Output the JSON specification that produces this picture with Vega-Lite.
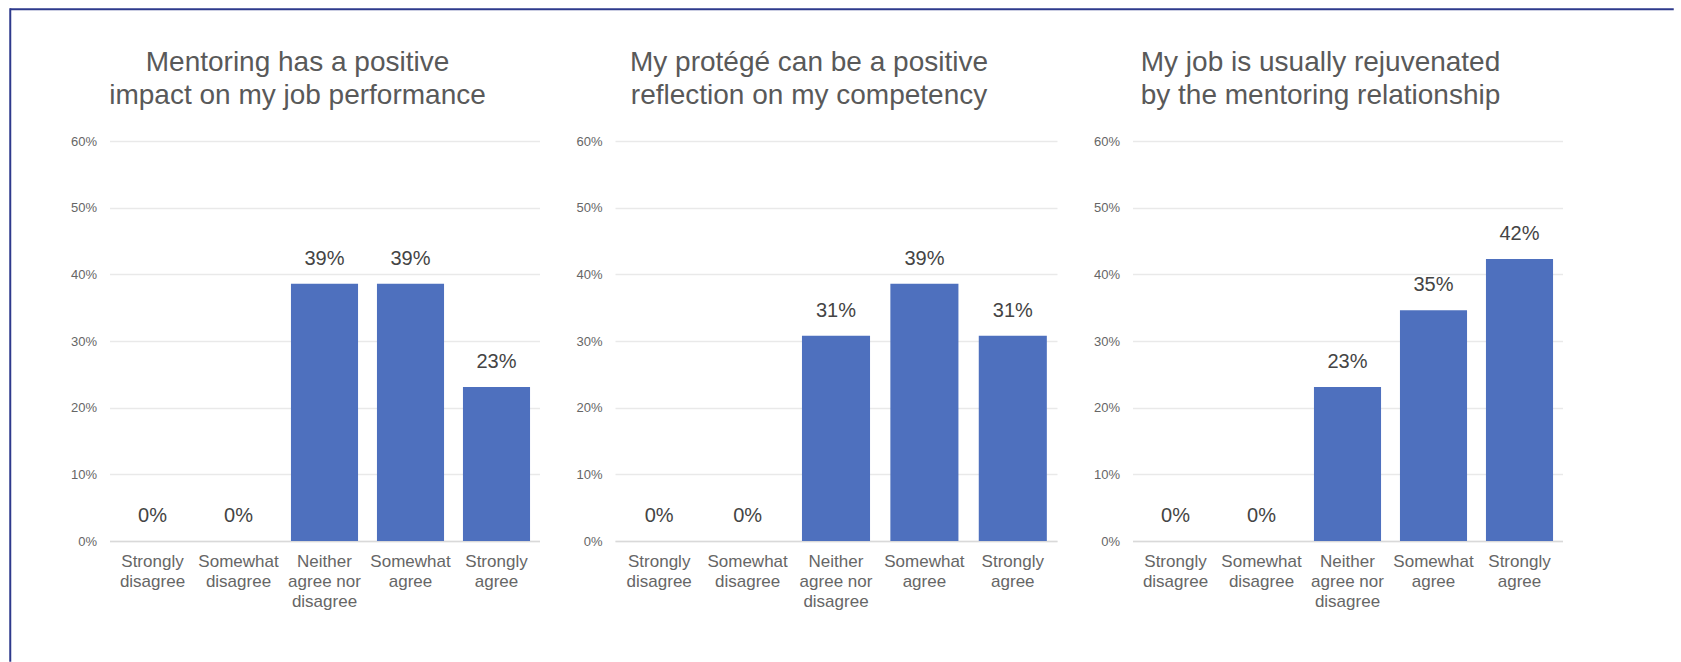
{
  "$schema": "https://vega.github.io/schema/vega-lite/v6.json",
  "padding": {"left": 9, "top": 8, "right": 0, "bottom": 0},
  "background": "white",
  "config": {
    "font": "Liberation Sans",
    "view": {"stroke": null},
    "concat": {"spacing": 0},
    "title": {"fontSize": 28, "fontWeight": "normal", "color": "#595959", "dx": -27, "lineHeight": 33, "offset": 25, "anchor": "middle", "font": "Liberation Sans"}
  },
  "datasets": {
    "survey": [
      {"panel": "p1", "response": "Strongly disagree", "share": 0},
      {"panel": "p1", "response": "Somewhat disagree", "share": 0},
      {"panel": "p1", "response": "Neither agree nor disagree", "share": 0.386},
      {"panel": "p1", "response": "Somewhat agree", "share": 0.386},
      {"panel": "p1", "response": "Strongly agree", "share": 0.231},
      {"panel": "p2", "response": "Strongly disagree", "share": 0},
      {"panel": "p2", "response": "Somewhat disagree", "share": 0},
      {"panel": "p2", "response": "Neither agree nor disagree", "share": 0.308},
      {"panel": "p2", "response": "Somewhat agree", "share": 0.386},
      {"panel": "p2", "response": "Strongly agree", "share": 0.308},
      {"panel": "p3", "response": "Strongly disagree", "share": 0},
      {"panel": "p3", "response": "Somewhat disagree", "share": 0},
      {"panel": "p3", "response": "Neither agree nor disagree", "share": 0.231},
      {"panel": "p3", "response": "Somewhat agree", "share": 0.346},
      {"panel": "p3", "response": "Strongly agree", "share": 0.423}
    ]
  },
  "bounds": "flush",
  "spacing": 0,
  "hconcat": [
    {
      "width": 0.5,
      "height": 652,
      "data": {"values": []},
      "mark": "rule",
      "encoding": {},
      "view": {"stroke": "#2e3a8c", "strokeWidth": 1.5}
    },
    {
      "bounds": "flush",
      "spacing": 131,
      "vconcat": [
        {
          "width": 1662,
          "height": 0.5,
          "data": {"values": []},
          "mark": "rule",
          "encoding": {},
          "view": {"stroke": "#2e3a8c", "strokeWidth": 1.5}
        },
        {
          "bounds": "flush",
          "spacing": 75.5,
          "hconcat": [
            {
              "width": 23,
              "height": 400,
              "data": {"values": []},
              "mark": "rule",
              "encoding": {}
            },
            {
              "width": 430,
              "height": 400,
              "data": {"name": "survey"},
              "transform": [{"filter": "datum.panel == 'p1'"}],
              "title": {"text": ["Mentoring has a positive", "impact on my job performance"]},
              "encoding": {
                "x": {"field": "response", "type": "nominal", "sort": ["Strongly disagree", "Somewhat disagree", "Neither agree nor disagree", "Somewhat agree", "Strongly agree"], "scale": {"paddingInner": 0.22, "paddingOuter": 0.11}, "axis": {"title": null, "labelAngle": 0, "ticks": false, "domainColor": "#d9d9d9", "domainWidth": 1.5, "labelFontSize": 17, "labelColor": "#666666", "labelLineHeight": 20, "labelPadding": 12, "labelExpr": "datum.value == 'Neither agree nor disagree' ? ['Neither', 'agree nor', 'disagree'] : split(datum.value, ' ')"}},
                "y": {"field": "share", "type": "quantitative", "scale": {"domain": [0, 0.6]}, "axis": {"title": null, "values": [0, 0.1, 0.2, 0.3, 0.4, 0.5, 0.6], "format": ".0%", "domain": false, "ticks": false, "labelFontSize": 13, "labelColor": "#666666", "labelPadding": 13, "gridColor": "#e9e9e9", "gridWidth": 1.5}}
              },
              "layer": [
                {"mark": {"type": "bar", "color": "#4e70be"}},
                {"mark": {"type": "text", "baseline": "alphabetic", "dy": -19, "fontSize": 20, "color": "#444444"}, "encoding": {"text": {"field": "share", "type": "quantitative", "format": ".0%"}}}
              ]
            },
            {
              "width": 442,
              "height": 400,
              "data": {"name": "survey"},
              "transform": [{"filter": "datum.panel == 'p2'"}],
              "title": {"text": ["My protégé can be a positive", "reflection on my competency"]},
              "encoding": {
                "x": {"field": "response", "type": "nominal", "sort": ["Strongly disagree", "Somewhat disagree", "Neither agree nor disagree", "Somewhat agree", "Strongly agree"], "scale": {"paddingInner": 0.23, "paddingOuter": 0.115}, "axis": {"title": null, "labelAngle": 0, "ticks": false, "domainColor": "#d9d9d9", "domainWidth": 1.5, "labelFontSize": 17, "labelColor": "#666666", "labelLineHeight": 20, "labelPadding": 12, "labelExpr": "datum.value == 'Neither agree nor disagree' ? ['Neither', 'agree nor', 'disagree'] : split(datum.value, ' ')"}},
                "y": {"field": "share", "type": "quantitative", "scale": {"domain": [0, 0.6]}, "axis": {"title": null, "values": [0, 0.1, 0.2, 0.3, 0.4, 0.5, 0.6], "format": ".0%", "domain": false, "ticks": false, "labelFontSize": 13, "labelColor": "#666666", "labelPadding": 13, "gridColor": "#e9e9e9", "gridWidth": 1.5}}
              },
              "layer": [
                {"mark": {"type": "bar", "color": "#4e70be"}},
                {"mark": {"type": "text", "baseline": "alphabetic", "dy": -19, "fontSize": 20, "color": "#444444"}, "encoding": {"text": {"field": "share", "type": "quantitative", "format": ".0%"}}}
              ]
            },
            {
              "width": 430,
              "height": 400,
              "data": {"name": "survey"},
              "transform": [{"filter": "datum.panel == 'p3'"}],
              "title": {"text": ["My job is usually rejuvenated", "by the mentoring relationship"]},
              "encoding": {
                "x": {"field": "response", "type": "nominal", "sort": ["Strongly disagree", "Somewhat disagree", "Neither agree nor disagree", "Somewhat agree", "Strongly agree"], "scale": {"paddingInner": 0.22, "paddingOuter": 0.11}, "axis": {"title": null, "labelAngle": 0, "ticks": false, "domainColor": "#d9d9d9", "domainWidth": 1.5, "labelFontSize": 17, "labelColor": "#666666", "labelLineHeight": 20, "labelPadding": 12, "labelExpr": "datum.value == 'Neither agree nor disagree' ? ['Neither', 'agree nor', 'disagree'] : split(datum.value, ' ')"}},
                "y": {"field": "share", "type": "quantitative", "scale": {"domain": [0, 0.6]}, "axis": {"title": null, "values": [0, 0.1, 0.2, 0.3, 0.4, 0.5, 0.6], "format": ".0%", "domain": false, "ticks": false, "labelFontSize": 13, "labelColor": "#666666", "labelPadding": 13, "gridColor": "#e9e9e9", "gridWidth": 1.5}}
              },
              "layer": [
                {"mark": {"type": "bar", "color": "#4e70be"}},
                {"mark": {"type": "text", "baseline": "alphabetic", "dy": -19, "fontSize": 20, "color": "#444444"}, "encoding": {"text": {"field": "share", "type": "quantitative", "format": ".0%"}}}
              ]
            }
          ]
        }
      ]
    }
  ],
  "autosize": {"type": "pad"}
}
